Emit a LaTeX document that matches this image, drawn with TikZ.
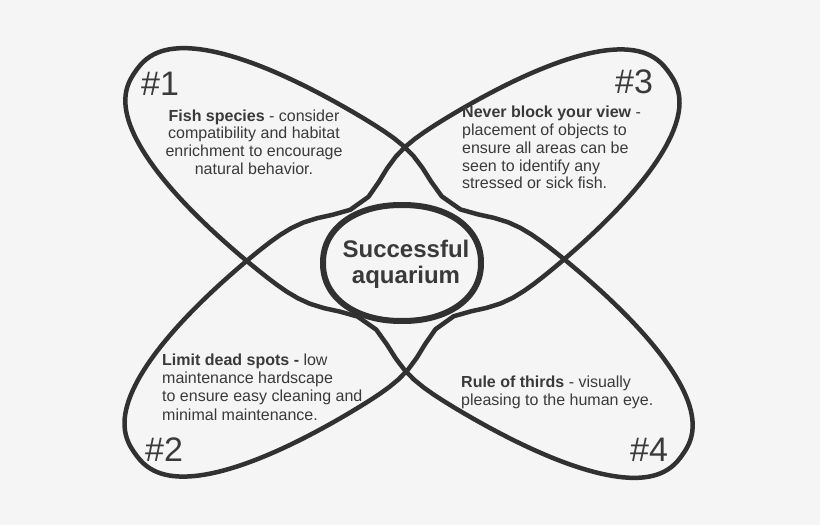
\documentclass[tikz,border=0pt]{standalone}
\usepackage{fontspec}
\setmainfont{Liberation Sans}
\definecolor{bg}{HTML}{F5F5F5}
\definecolor{ink}{HTML}{313131}
\definecolor{txt}{HTML}{3A3A3A}
\def\Wd{96}
\def\Qe{-0.1667}
\def\Kp{0.25}
\def\Sg{0.14}
\begin{document}
\begin{tikzpicture}[x=1pt,y=-1pt,
  petal/.style={draw=ink, line width=4.5pt, line join=round},
  hub/.style={draw=ink, fill=bg, line width=6pt, line join=round},
  body/.style={font=\fontsize{16}{18}\selectfont, text=txt, inner sep=0pt},
  num/.style={font=\fontsize{34}{40}\selectfont, text=txt, inner sep=0pt},
  ctr/.style={font=\fontsize{24}{26}\selectfont\bfseries, text=txt, inner sep=0pt}]
\fill[bg] (0,0) rectangle (820,525);
\useasboundingbox (0,0) rectangle (820,525);
% loop #1 / #4
\begin{scope}[shift={(409,263)}, rotate=-35]
\def\Ln{334}
\draw[petal] plot[domain=1:359, samples=180]
  ({\Ln*cos(\x)*pow(abs(cos(\x)),\Qe)},
   {\Wd*sin(\x)*pow(abs(sin(\x)),\Qe)*(1-\Kp*exp(-pow(cos(\x)*pow(abs(cos(\x)),\Qe)/\Sg,2)))}) -- cycle;
\end{scope}
% loop #3 / #2
\begin{scope}[shift={(402,263)}, rotate=35.5]
\def\Ln{328}
\draw[petal] plot[domain=1:359, samples=180]
  ({\Ln*cos(\x)*pow(abs(cos(\x)),\Qe)},
   {\Wd*sin(\x)*pow(abs(sin(\x)),\Qe)*(1-\Kp*exp(-pow(cos(\x)*pow(abs(cos(\x)),\Qe)/\Sg,2)))}) -- cycle;
\end{scope}
% centre
\begin{scope}[shift={(402,263)}]
\draw[hub] plot[domain=1:359, samples=180]
  ({79*cos(\x)*pow(abs(cos(\x)),-0.07)}, {58*sin(\x)*pow(abs(sin(\x)),-0.07)}) -- cycle;
\end{scope}
\node[ctr, anchor=base] (c1) at (406,257) {Successful};
\node[ctr, anchor=base] (c2) at (406,283) {aquarium};
% numbers
\node[num, anchor=base west] (n1) at (141,95) {\#1};
\node[num, anchor=base west] (n3) at (615,93) {\#3};
\node[num, anchor=base west] (n2) at (145,461) {\#2};
\node[num, anchor=base west] (n4) at (630,461) {\#4};
% block 1
\node[body, anchor=base] (a1) at (254,121) {\textbf{Fish species} - consider};
\node[body, anchor=base] (a2) at (254,138.7) {compatibility and habitat};
\node[body, anchor=base] (a3) at (254,156.4) {enrichment to encourage};
\node[body, anchor=base] (a4) at (254,174) {natural behavior.};
% block 3
\node[body, anchor=base west] (b1) at (462,117) {\textbf{Never block your view} -};
\node[body, anchor=base west] (b2) at (462,135) {placement of objects to};
\node[body, anchor=base west] (b3) at (462,153) {ensure all areas can be};
\node[body, anchor=base west] (b4) at (462,171) {seen to identify any};
\node[body, anchor=base west] (b5) at (462,188.5) {stressed or sick fish.};
% block 2
\node[body, anchor=base west] (d1) at (162,365) {\textbf{Limit dead spots -} low};
\node[body, anchor=base west] (d2) at (162,383) {maintenance hardscape};
\node[body, anchor=base west] (d3) at (162,401.5) {to ensure easy cleaning and};
\node[body, anchor=base west] (d4) at (162,420) {minimal maintenance.};
% block 4
\node[body, anchor=base west] (e1) at (461,387) {\textbf{Rule of thirds} - visually};
\node[body, anchor=base west] (e2) at (461,405) {pleasing to the human eye.};
\end{tikzpicture}
\end{document}
